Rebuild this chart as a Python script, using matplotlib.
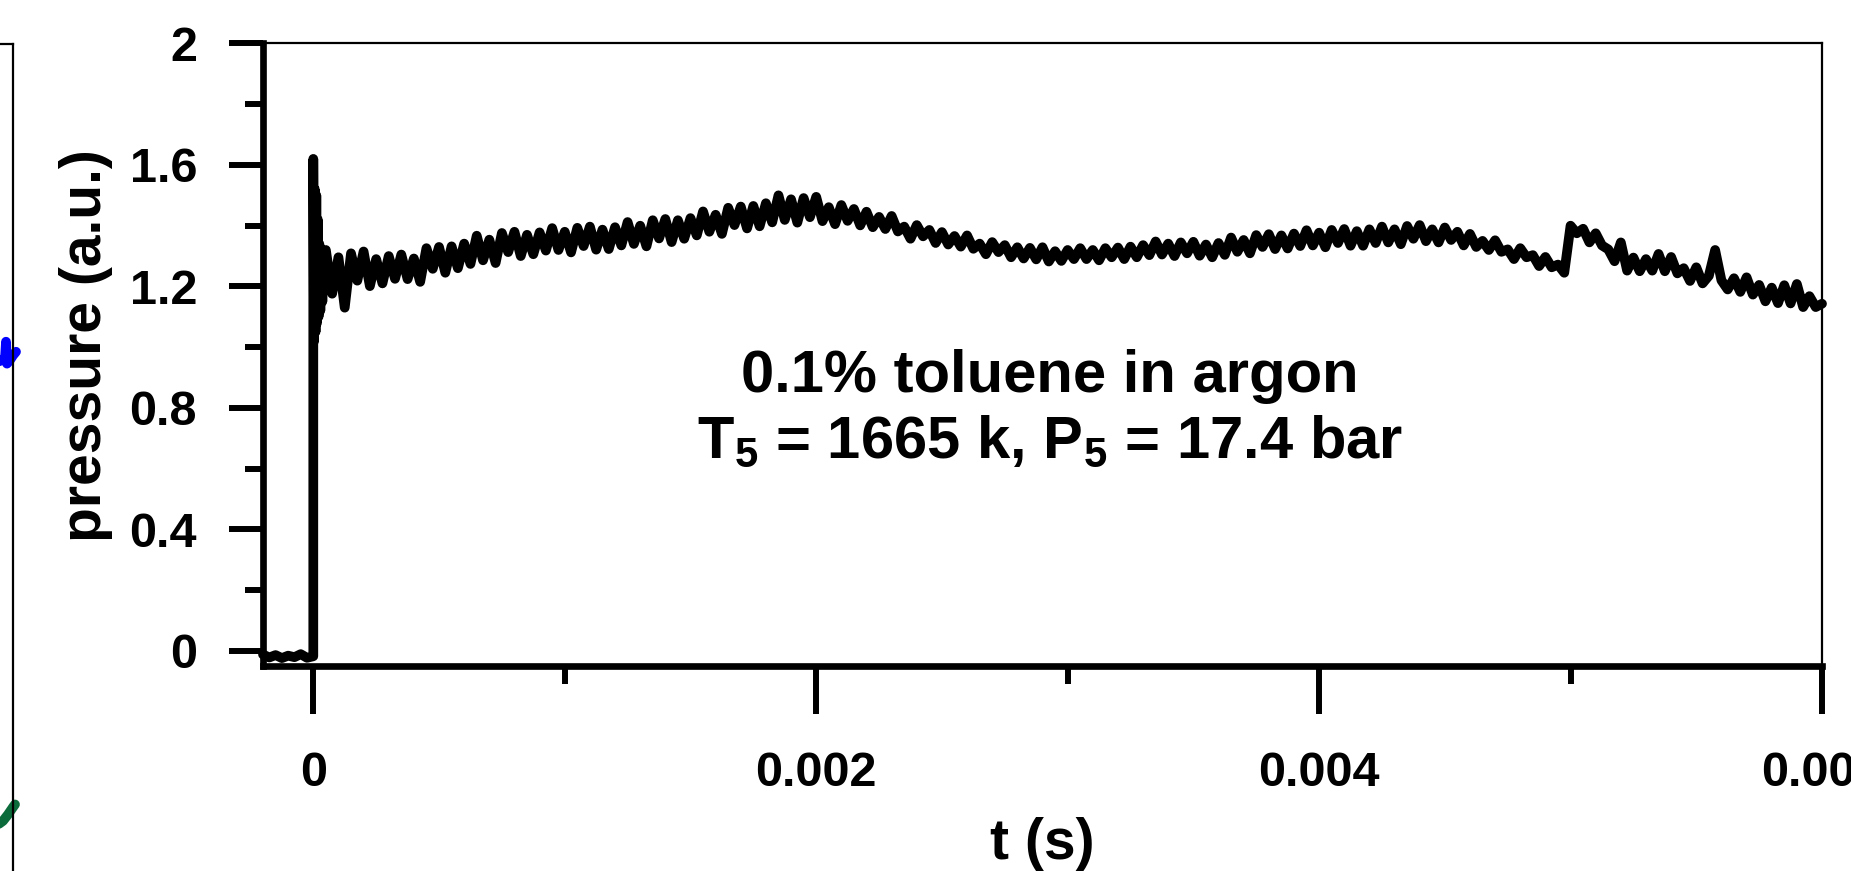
import numpy as np
import matplotlib
matplotlib.use("Agg")
import matplotlib.pyplot as plt
from matplotlib.ticker import FixedLocator, MultipleLocator

plt.rcParams['font.family'] = ['Liberation Sans', 'DejaVu Sans']
plt.rcParams['font.weight'] = 'bold'
plt.rcParams['mathtext.fontset'] = 'custom'
plt.rcParams['mathtext.rm'] = 'Liberation Sans:bold'
plt.rcParams['mathtext.it'] = 'Liberation Sans:bold'
plt.rcParams['mathtext.bf'] = 'Liberation Sans:bold'
plt.rcParams['mathtext.sf'] = 'Liberation Sans:bold'

# ---------------- data ----------------
# baseline before the reflected shock (t = -0.0002 .. 0, step 25 us)
pre_t0 = -0.0002
pre_dt = 0.000025
pre_p = [-0.012, -0.022, -0.014, -0.024, -0.016, -0.021, -0.011, -0.023, -0.018]

# pressure jump and ringing right after t = 0
onset_t = [0.0, 0.0, 0.000003, 0.000006, 0.000009, 0.000012, 0.000015, 0.000018,
           0.000021, 0.000024, 0.000028, 0.000032, 0.000036, 0.00004]
onset_p = [-0.018, 1.62, 1.02, 1.52, 1.05, 1.50, 1.08, 1.42, 1.10, 1.34, 1.12,
           1.31, 1.15, 1.30]

# main trace, t = 0.00005 .. 0.006, step 25 us (4 samples per row of 100 us)
main_t0 = 0.00005
main_dt = 0.000025
main_p = [
    1.320, 1.176, 1.296, 1.130,
    1.309, 1.219, 1.315, 1.201,
    1.290, 1.210, 1.300, 1.225,
    1.305, 1.224, 1.292, 1.215,
    1.326, 1.258, 1.330, 1.245,
    1.332, 1.260, 1.341, 1.274,
    1.367, 1.286, 1.354, 1.277,
    1.376, 1.313, 1.380, 1.300,
    1.370, 1.306, 1.378, 1.318,
    1.392, 1.320, 1.380, 1.312,
    1.393, 1.333, 1.397, 1.321,
    1.387, 1.323, 1.395, 1.335,
    1.412, 1.340, 1.400, 1.332,
    1.418, 1.358, 1.422, 1.346,
    1.418, 1.357, 1.425, 1.368,
    1.447, 1.380, 1.436, 1.373,
    1.459, 1.402, 1.463, 1.391,
    1.465, 1.398, 1.474, 1.411,
    1.500, 1.419, 1.487, 1.410,
    1.491, 1.428, 1.495, 1.415,
    1.461, 1.405, 1.468, 1.416,
    1.455, 1.401, 1.446, 1.395,
    1.429, 1.389, 1.432, 1.381,
    1.397, 1.357, 1.402, 1.365,
    1.386, 1.343, 1.379, 1.338,
    1.366, 1.331, 1.368, 1.324,
    1.341, 1.306, 1.346, 1.313,
    1.336, 1.296, 1.329, 1.292,
    1.327, 1.289, 1.329, 1.282,
    1.316, 1.284, 1.320, 1.290,
    1.326, 1.290, 1.320, 1.286,
    1.326, 1.296, 1.328, 1.290,
    1.331, 1.296, 1.336, 1.303,
    1.348, 1.305, 1.341, 1.300,
    1.345, 1.309, 1.347, 1.301,
    1.338, 1.296, 1.343, 1.304,
    1.361, 1.314, 1.353, 1.309,
    1.369, 1.330, 1.372, 1.323,
    1.368, 1.325, 1.374, 1.333,
    1.385, 1.335, 1.377, 1.329,
    1.386, 1.343, 1.389, 1.334,
    1.382, 1.334, 1.388, 1.343,
    1.397, 1.345, 1.388, 1.339,
    1.399, 1.357, 1.402, 1.349,
    1.388, 1.345, 1.394, 1.353,
    1.380, 1.335, 1.373, 1.330,
    1.350, 1.320, 1.352, 1.314,
    1.322, 1.290, 1.326, 1.296,
    1.303, 1.267, 1.297, 1.263,
    1.272, 1.245, 1.400, 1.375,
    1.390, 1.345, 1.375, 1.335,
    1.322, 1.283, 1.345, 1.252,
    1.295, 1.250, 1.290, 1.252,
    1.307, 1.250, 1.297, 1.243,
    1.260, 1.218, 1.263, 1.210,
    1.235, 1.320, 1.220, 1.190,
    1.227, 1.182, 1.230, 1.173,
    1.205, 1.151, 1.196, 1.145,
    1.204, 1.144, 1.208, 1.132,
    1.168, 1.132, 1.143,
]

# fragments of the neighbouring (cropped) panel on the far left
nb_blue_x = [0.925, 0.945, 0.96, 0.965, 0.97, 0.985, 1.0, 1.015]
nb_blue_y = [0.652, 0.654, 0.656, 0.674, 0.650, 0.654, 0.659, 0.663]
nb_green_x = [0.925, 0.95, 0.975, 1.0, 1.01]
nb_green_y = [0.146, 0.150, 0.157, 0.165, 0.168]

x_ticks = [0, 0.002, 0.004, 0.006]
x_ticklabels = ['0', '0.002', '0.004', '0.006']
y_ticks = [0, 0.4, 0.8, 1.2, 1.6, 2]
y_ticklabels = ['0', '0.4', '0.8', '1.2', '1.6', '2']

annot_line1 = '0.1% toluene in argon'
annot_line2 = 'T$_5$ = 1665 k, P$_5$ = 17.4 bar'

# ---------------- figure ----------------
W, H = 1851, 871
fig = plt.figure(figsize=(W / 100, H / 100), dpi=100)

# neighbouring panel (cropped)
ax0 = fig.add_axes([(13 - 200) / W, -0.1, 200 / W, 1.05])
ax0.set_xlim(0, 1)
ax0.set_ylim(0, 1)
for s in ['left', 'bottom']:
    ax0.spines[s].set_visible(False)
for s in ['right', 'top']:
    ax0.spines[s].set_linewidth(1.6)
ax0.set_xticks([])
ax0.set_yticks([])
ax0.patch.set_alpha(0)
ax0.plot(nb_blue_x, nb_blue_y, color='#0000ff', lw=7, clip_on=False,
         solid_capstyle='round', solid_joinstyle='round')
ax0.plot(nb_green_x, nb_green_y, color='#0b6b3a', lw=7, clip_on=False,
         solid_capstyle='round', solid_joinstyle='round')

# main panel
ax = fig.add_axes([263 / W, 1 - 666 / H, (1822 - 263) / W, (666 - 43.5) / H])

pre_t = pre_t0 + pre_dt * np.arange(len(pre_p))
main_t = main_t0 + main_dt * np.arange(len(main_p))
t_all = np.concatenate([pre_t, onset_t, main_t])
p_all = np.concatenate([pre_p, onset_p, main_p])
ax.plot(t_all, p_all, color='black', lw=7.0, solid_joinstyle='round',
        solid_capstyle='round', clip_on=False, zorder=3)

ax.set_xlim(-0.0002, 0.006)
ax.set_ylim(-0.05, 2)

ax.xaxis.set_major_locator(FixedLocator(x_ticks))
ax.set_xticklabels(x_ticklabels)
ax.xaxis.set_minor_locator(MultipleLocator(0.001))
ax.yaxis.set_major_locator(FixedLocator(y_ticks))
ax.set_yticklabels(y_ticklabels)
ax.yaxis.set_minor_locator(MultipleLocator(0.2))

ax.tick_params(axis='y', which='major', direction='out', length=24.5, width=4.3,
               pad=23, labelsize=35)
ax.tick_params(axis='y', which='minor', direction='out', length=13, width=4.3)
ax.tick_params(axis='x', which='major', direction='out', length=34.5, width=4.3,
               pad=27, labelsize=35)
ax.tick_params(axis='x', which='minor', direction='out', length=13, width=4.3)
for lab in ax.get_xticklabels() + ax.get_yticklabels():
    lab.set_fontweight('bold')

ax.spines['left'].set_linewidth(4.8)
ax.spines['bottom'].set_linewidth(4.8)
ax.spines['top'].set_linewidth(1.6)
ax.spines['right'].set_linewidth(1.6)

ax.set_xlabel('t (s)', fontsize=41, fontweight='bold')
ax.xaxis.set_label_coords(0.5, -0.242)
ax.set_ylabel('pressure (a.u.)', fontsize=41, fontweight='bold')
ax.yaxis.set_label_coords(-0.096, 0.514)

ax.text(0.00293, 0.853, annot_line1, fontsize=43, fontweight='bold',
        ha='center', va='baseline')
ax.text(0.00293, 0.635, annot_line2, fontsize=43, fontweight='bold',
        ha='center', va='baseline')

fig.savefig('out.png', dpi=100)
